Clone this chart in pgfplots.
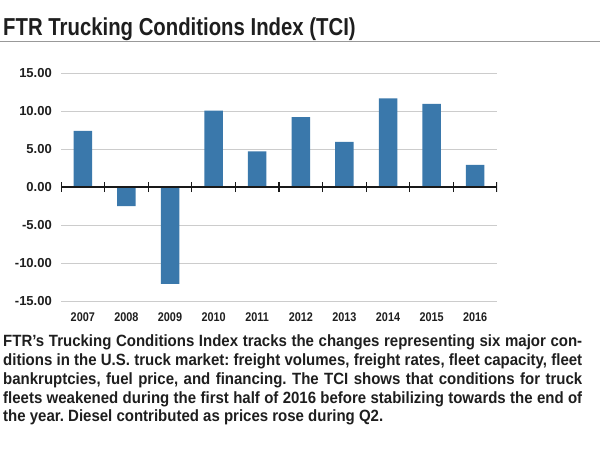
\documentclass[border=0pt]{standalone}
\usepackage{fontspec}
\setmainfont{Liberation Sans}
\newfontfamily\condfont[FakeStretch=0.83]{Liberation Sans}
\newfontfamily\xlabfont[FakeStretch=0.86]{Liberation Sans}
\newfontfamily\capfont[FakeStretch=0.92]{Liberation Sans}
\usepackage{pgfplots}
\pgfplotsset{compat=1.18}
\definecolor{barblue}{RGB}{58,120,171}
\definecolor{txt}{RGB}{30,30,30}
\frenchspacing
\begin{document}
\begin{tikzpicture}
% page frame, 1pt = 1px of the reference
\useasboundingbox (0,0) rectangle (600pt,-450pt);
\node[anchor=base west, inner sep=0pt, text=txt, font=\condfont\bfseries\fontsize{24.5}{26}\selectfont]
  at (3pt,-35pt) {FTR Trucking Conditions Index (TCI)};
\draw[black!40, line width=1pt] (0,-41.7pt) -- (600pt,-41.7pt);
\begin{axis}[
    at={(61pt,-301pt)}, anchor=south west,
    scale only axis,
    width=436pt, height=228pt,
    xmin=-0.5, xmax=9.5,
    ymin=-15, ymax=15,
    axis line style={draw=none},
    major tick style={draw=none},
    xtick={0,...,9},
    xticklabels={2007,2008,2009,2010,2011,2012,2013,2014,2015,2016},
    xticklabel style={anchor=base, inner sep=0pt, yshift=-16pt,
        font=\xlabfont\bfseries\fontsize{12.6}{13}\selectfont, text=txt},
    ytick={-15,-10,-5,0,5,10,15},
    yticklabels={-15.00,-10.00,-5.00,0.00,5.00,10.00,15.00},
    yticklabel style={anchor=east, inner sep=0pt, xshift=-9pt,
        font=\bfseries\fontsize{13}{14}\selectfont, text=txt},
    ymajorgrids,
    grid style={black!20, line width=0.8pt},
    ybar, bar width=18.5pt,
]
\addplot[fill=barblue, draw=none] coordinates {
    (0,7.4) (1,-2.5) (2,-12.75) (3,10.05) (4,4.7)
    (5,9.2) (6,5.95) (7,11.65) (8,10.95) (9,2.9)};
\draw[black!90, line width=2.6pt] (axis cs:-0.5,0) -- (axis cs:9.5,0);
\pgfplotsinvokeforeach{-0.5,0.5,1.5,2.5,3.5,4.5,5.5,6.5,7.5,8.5,9.5}{
  \draw[black!90, line width=1.1pt] ([yshift=-5pt]axis cs:#1,0) -- ([yshift=5pt]axis cs:#1,0);
}
\end{axis}
\begin{scope}[every node/.style={anchor=base west, inner sep=0pt, text=txt,
    font=\capfont\bfseries\fontsize{16.3}{18}\selectfont}]
\node at (3pt,-346.8pt) {\makebox[579pt][s]{FTR’s Trucking Conditions Index tracks the changes representing six major con-}};
\node at (3pt,-365.5pt) {\makebox[579pt][s]{ditions in the U.S. truck market: freight volumes, freight rates, fleet capacity, fleet}};
\node at (3pt,-384.2pt) {\makebox[579pt][s]{bankruptcies, fuel price, and financing. The TCI shows that conditions for truck}};
\node at (3pt,-403pt) {\makebox[579pt][s]{fleets weakened during the first half of 2016 before stabilizing towards the end of}};
\node at (3pt,-421.7pt) {the year. Diesel contributed as prices rose during Q2.};
\end{scope}
\end{tikzpicture}
\end{document}
